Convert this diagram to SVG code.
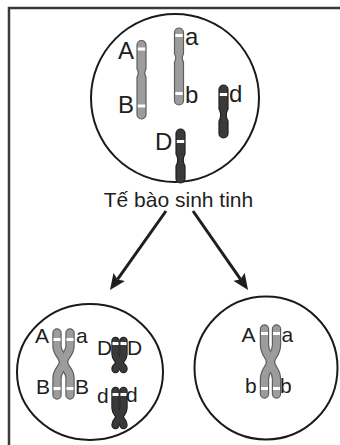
<svg xmlns="http://www.w3.org/2000/svg" width="340" height="445" viewBox="0 0 340 445">
<style>
.cell{fill:none;stroke:#1a1a1a;stroke-width:2}
.lbl{font-family:"Liberation Sans",Arial,sans-serif;fill:#1e1e1e}
.big{font-size:24px}
.sm{font-size:21px}
.lo{fill:#9c9c9c;stroke:#5e5e5e;stroke-width:1.2}
.dk{fill:#3a3a3a;stroke:#1e1e1e;stroke-width:1.2}
.band{fill:#ffffff}
.xo-l{fill:none;stroke:#5e5e5e;stroke-linecap:round;stroke-linejoin:round;stroke-width:9.4}
.xf-l{fill:none;stroke:#9c9c9c;stroke-linecap:round;stroke-linejoin:round;stroke-width:7}
.xo-d{fill:none;stroke:#1e1e1e;stroke-linecap:round;stroke-linejoin:round;stroke-width:8.4}
.xf-d{fill:none;stroke:#3a3a3a;stroke-linecap:round;stroke-linejoin:round;stroke-width:6.4}
.arr{fill:none;stroke:#1e1e1e;stroke-width:3}
</style>
<defs>
<marker id="ah" viewBox="0 0 16 14" refX="3" refY="7" markerWidth="16" markerHeight="14" markerUnits="userSpaceOnUse" orient="auto">
<path d="M0,0 L16,7 L0,14 L3,7 Z" fill="#1e1e1e"/>
</marker>
</defs>
<rect width="340" height="445" fill="#ffffff"/>
<path d="M9,445 L9,8 L340,8" fill="none" stroke="#3a3a3a" stroke-width="2.5"/>

<g id="connectors">
<path class="arr" d="M166,211 L117.5,279.4" marker-end="url(#ah)"/>
<path class="arr" d="M193,211 L240.6,279.3" marker-end="url(#ah)"/>
</g>

<g id="te-bao-sinh-tinh">
<circle class="cell" cx="175" cy="98" r="84"/>
<path class="lo" d="M137,45 A4.5,4.5 0 0 1 146,45 L146,69 Q143.5,73 146,77 L146,114.5 A4.5,4.5 0 0 1 137,114.5 L137,77 Q139.5,73 137,69 Z"/>
<rect class="band" x="137.8" y="47.5" width="7.4" height="3"/>
<rect class="band" x="137.8" y="104.5" width="7.4" height="3"/>
<path class="lo" d="M174.5,32.5 A4.5,4.5 0 0 1 183.5,32.5 L183.5,54 Q181,58 183.5,62 L183.5,100.5 A4.5,4.5 0 0 1 174.5,100.5 L174.5,62 Q177,58 174.5,54 Z"/>
<rect class="band" x="175.3" y="34" width="7.4" height="3"/>
<rect class="band" x="175.3" y="92" width="7.4" height="3"/>
<path class="dk" d="M219,89.5 A4.5,4.5 0 0 1 228,89.5 L228,109 Q224.5,115 228,121 L228,133.5 A4.5,4.5 0 0 1 219,133.5 L219,121 Q222.5,115 219,109 Z"/>
<rect class="band" x="219.8" y="93" width="7.4" height="3"/>
<path class="dk" d="M176,133.5 A4.5,4.5 0 0 1 185,133.5 L185,154 Q181.5,160 185,166 L185,178.5 A4.5,4.5 0 0 1 176,178.5 L176,166 Q179.5,160 176,154 Z"/>
<rect class="band" x="176.8" y="140" width="7.4" height="3"/>
<text class="lbl big" x="118" y="59">A</text>
<text class="lbl big" x="118" y="113">B</text>
<text class="lbl big" x="185" y="45">a</text>
<text class="lbl big" x="185" y="103">b</text>
<text class="lbl big" x="229" y="101.5">d</text>
<text class="lbl big" x="155" y="150">D</text>
<text class="lbl" x="178.5" y="206.5" font-size="21" text-anchor="middle">Tế bào sinh tinh</text>
</g>

<g id="te-bao-con-1">
<ellipse class="cell" cx="90" cy="372" rx="73" ry="68"/>
<path class="xo-l" d="M57,333 L57,346 C57,354 63.5,356 63.5,362 C63.5,368 57,370 57,378 L57,395"/>
<path class="xo-l" d="M70,333 L70,346 C70,354 63.5,356 63.5,362 C63.5,368 70,370 70,378 L70,395"/>
<path class="xf-l" d="M57,333 L57,346 C57,354 63.5,356 63.5,362 C63.5,368 57,370 57,378 L57,395"/>
<path class="xf-l" d="M70,333 L70,346 C70,354 63.5,356 63.5,362 C63.5,368 70,370 70,378 L70,395"/>
<rect class="band" x="53.5" y="338" width="7" height="3"/>
<rect class="band" x="66.5" y="338" width="7" height="3"/>
<rect class="band" x="53.5" y="387" width="7" height="3"/>
<rect class="band" x="66.5" y="387" width="7" height="3"/>
<path class="xo-d" d="M115.5,341 L115.5,354 C115.5,359 119.5,360 119.5,363 C119.5,366 115.5,366 115.5,369"/>
<path class="xo-d" d="M123.5,341 L123.5,354 C123.5,359 119.5,360 119.5,363 C119.5,366 123.5,366 123.5,369"/>
<path class="xf-d" d="M115.5,341 L115.5,354 C115.5,359 119.5,360 119.5,363 C119.5,366 115.5,366 115.5,369"/>
<path class="xf-d" d="M123.5,341 L123.5,354 C123.5,359 119.5,360 119.5,363 C119.5,366 123.5,366 123.5,369"/>
<rect class="band" x="112.5" y="342" width="6" height="3"/>
<rect class="band" x="120.5" y="342" width="6" height="3"/>
<path class="xo-d" d="M115.5,391 L115.5,408 C115.5,413 119.5,414 119.5,417 C119.5,420 115.5,421 115.5,425"/>
<path class="xo-d" d="M123.5,391 L123.5,408 C123.5,413 119.5,414 119.5,417 C119.5,420 123.5,421 123.5,425"/>
<path class="xf-d" d="M115.5,391 L115.5,408 C115.5,413 119.5,414 119.5,417 C119.5,420 115.5,421 115.5,425"/>
<path class="xf-d" d="M123.5,391 L123.5,408 C123.5,413 119.5,414 119.5,417 C119.5,420 123.5,421 123.5,425"/>
<rect class="band" x="112.5" y="393" width="6" height="3"/>
<rect class="band" x="120.5" y="393" width="6" height="3"/>
<text class="lbl sm" x="35" y="343">A</text>
<text class="lbl sm" x="76" y="343">a</text>
<text class="lbl sm" x="36" y="394">B</text>
<text class="lbl sm" x="75" y="394">B</text>
<text class="lbl sm" x="97" y="355">D</text>
<text class="lbl sm" x="127" y="355">D</text>
<text class="lbl sm" x="97" y="403">d</text>
<text class="lbl sm" x="126" y="402">d</text>
</g>

<g id="te-bao-con-2">
<circle class="cell" cx="266" cy="368" r="71.5"/>
<path class="xo-l" d="M264.5,329 L264.5,345 C264.5,354 270.5,356 270.5,362 C270.5,368 264.5,370 264.5,379 L264.5,394"/>
<path class="xo-l" d="M276.5,329 L276.5,345 C276.5,354 270.5,356 270.5,362 C270.5,368 276.5,370 276.5,379 L276.5,394"/>
<path class="xf-l" d="M264.5,329 L264.5,345 C264.5,354 270.5,356 270.5,362 C270.5,368 264.5,370 264.5,379 L264.5,394"/>
<path class="xf-l" d="M276.5,329 L276.5,345 C276.5,354 270.5,356 270.5,362 C270.5,368 276.5,370 276.5,379 L276.5,394"/>
<rect class="band" x="261" y="332" width="7" height="3"/>
<rect class="band" x="273" y="332" width="7" height="3"/>
<rect class="band" x="261" y="387" width="7" height="3"/>
<rect class="band" x="273" y="387" width="7" height="3"/>
<text class="lbl sm" x="241.5" y="342">A</text>
<text class="lbl sm" x="281.5" y="342">a</text>
<text class="lbl sm" x="245" y="393">b</text>
<text class="lbl sm" x="280" y="393">b</text>
</g>
</svg>
